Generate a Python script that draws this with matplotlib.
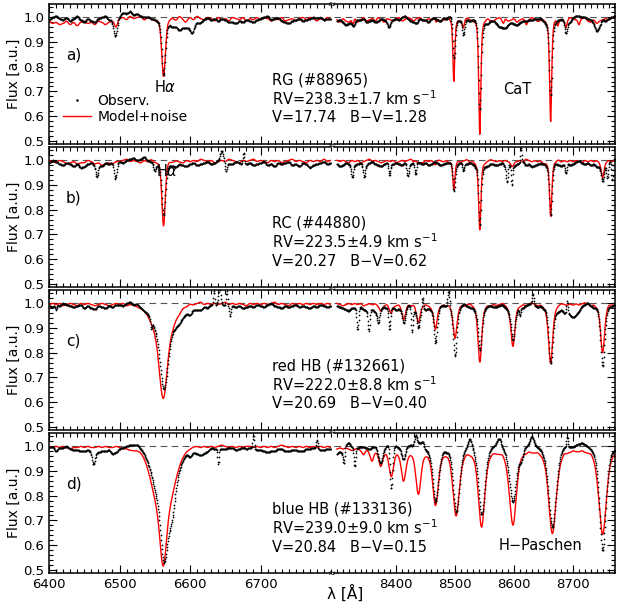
import numpy as np
import matplotlib.pyplot as plt
from matplotlib.ticker import MultipleLocator, FixedLocator, NullFormatter
from matplotlib.lines import Line2D

plt.rcParams['font.family'] = ['DejaVu Sans']

FIG_W, FIG_H = 623, 605

# axis ranges
left_lim = (6400, 6800)
right_lim = (8295, 8771)
flux_lim = (0.487, 1.054)
left_ticks = [6400, 6500, 6600, 6700]
right_ticks = [8400, 8500, 8600, 8700]

# text per star
panel_labels = ['a)', 'b)', 'c)', 'd)']
star_names = ['RG (#88965)', 'RC (#44880)', 'red HB (#132661)', 'blue HB (#133136)']
rv_texts = ['RV=238.3\u00b11.7 km s$^{-1}$', 'RV=223.5\u00b14.9 km s$^{-1}$',
            'RV=222.0\u00b18.8 km s$^{-1}$', 'RV=239.0\u00b19.0 km s$^{-1}$']
phot_texts = ['V=17.74   B\u2212V=1.28', 'V=20.27   B\u2212V=0.62',
              'V=20.69   B\u2212V=0.40', 'V=20.84   B\u2212V=0.15']

# continuum levels per star
cont_model = [0.99, 0.995, 0.995, 0.995]
cont_obs = [0.99, 0.985, 0.985, 0.99]
cont_model_r = [0.99, 0.995, 0.995, 0.99]
cont_obs_r = [0.985, 0.985, 0.99, 1.0]

# absorption features: (centre [A], depth, sigma [A], lorentz fraction)
# negative depth = spike above continuum
rg_model_left = [(6562.5, 0.23, 2.6, 0.3), (6495, 0.015, 2, 0), (6593, 0.01, 2, 0)]
rg_obs_left = [(6562.5, 0.22, 2.6, 0.3), (6494, 0.065, 2.5, 0), (6602, 0.03, 2.5, 0),
               (6592, 0.025, 14, 0)]
rg_model_right = [(8498, 0.25, 1.6, 0.5), (8542, 0.46, 1.8, 0.5), (8662, 0.41, 1.8, 0.5),
                  (8514, 0.03, 1.5, 0), (8688, 0.03, 1.5, 0), (8327, 0.02, 1.5, 0),
                  (8468, 0.015, 1.5, 0), (8582, 0.015, 1.5, 0), (8621, 0.015, 1.5, 0),
                  (8674, 0.02, 1.5, 0), (8710, 0.015, 1.5, 0)]
rg_obs_right = [(8498, 0.16, 2.0, 0.5), (8542, 0.36, 2.3, 0.5), (8662, 0.30, 2.3, 0.5),
                (8514, 0.05, 1.8, 0), (8688, 0.05, 2.0, 0), (8580, 0.015, 10, 0),
                (8740, 0.03, 3, 0), (8388, 0.02, 2, 0), (8327, 0.02, 2, 0)]

rc_model_left = [(6562.5, 0.26, 2.4, 0.3)]
rc_obs_left = [(6562.5, 0.205, 2.6, 0.3), (6468, 0.05, 1.8, 0), (6494, 0.06, 1.8, 0),
               (6550, 0.03, 1.5, 0), (6651, 0.035, 1.2, 0), (6645, -0.045, 2, 0),
               (6676, -0.05, 1.2, 0)]
rc_model_right = [(8498, 0.115, 1.8, 0.5), (8542, 0.275, 2.0, 0.5), (8662, 0.225, 2.0, 0.5),
                  (8750, 0.06, 2.5, 0.3), (8598, 0.02, 2.5, 0), (8467, 0.015, 2.5, 0),
                  (8438, 0.01, 2.5, 0)]
rc_obs_right = [(8498, 0.115, 2.0, 0.5), (8542, 0.255, 2.2, 0.5), (8662, 0.205, 2.2, 0.5),
                (8750, 0.07, 2.5, 0.3), (8326, 0.04, 1.5, 0), (8346, 0.045, 1.5, 0),
                (8389, 0.04, 1.5, 0), (8420, 0.04, 1.5, 0), (8433, 0.05, 1.5, 0),
                (8514, 0.03, 1.5, 0), (8588, 0.07, 1.5, 0), (8596, 0.08, 1.2, 0),
                (8612, -0.06, 1.0, 0), (8688, 0.04, 1.5, 0), (8758, 0.06, 1.5, 0),
                (8766, 0.08, 1.2, 0)]

rhb_model_left = [(6562, 0.22, 5, 0), (6562, 0.16, 14, 0)]
rhb_obs_left = [(6563, 0.20, 5, 0), (6563, 0.13, 14, 0), (6595, 0.02, 15, 0),
                (6634, -0.06, 1.0, 0), (6642, -0.07, 1.5, 0), (6652, -0.06, 1.0, 0),
                (6657, 0.04, 1.0, 0), (6545, 0.03, 1.0, 0), (6410, 0.02, 1.0, 0)]
rhb_model_right = [(8374, 0.02, 3, 0.5), (8392, 0.035, 3, 0.5), (8413, 0.055, 3, 0.5),
                   (8438, 0.075, 3, 0.5), (8467, 0.10, 3, 0.5), (8500, 0.14, 3.2, 0.5),
                   (8542, 0.235, 3.2, 0.5), (8598, 0.17, 3.5, 0.5), (8662, 0.24, 3.5, 0.5),
                   (8750, 0.195, 3.5, 0.5)]
rhb_obs_right = [(8335, 0.09, 1.5, 0), (8354, 0.09, 1.5, 0), (8370, 0.05, 2, 0),
                 (8389, 0.08, 1.5, 0), (8413, 0.06, 2.5, 0.5), (8427, 0.10, 1.5, 0),
                 (8438, 0.08, 2.5, 0.5), (8445, -0.04, 1.2, 0), (8467, 0.15, 2.8, 0.5),
                 (8489, -0.07, 1.5, 0), (8500, 0.21, 3.0, 0.5), (8542, 0.18, 3.2, 0.5),
                 (8598, 0.14, 3.5, 0.5), (8662, 0.23, 3.5, 0.5), (8750, 0.24, 3.5, 0.5),
                 (8632, -0.04, 1.2, 0), (8690, -0.05, 1.2, 0), (8610, 0.04, 1.5, 0),
                 (8700, 0.03, 8, 0)]

bhb_model_left = [(6562, 0.18, 4, 0), (6562, 0.30, 14, 0)]
bhb_obs_left = [(6563, 0.18, 4, 0), (6563, 0.27, 13, 0), (6574, 0.10, 5, 0),
                (6605, 0.02, 18, 0), (6463, 0.05, 2, 0), (6640, 0.06, 1.0, 0),
                (6690, -0.05, 1.0, 0), (6780, -0.03, 1.0, 0)]
bhb_model_right = [(8345, 0.02, 3, 0.5), (8359, 0.04, 3, 0.5), (8374, 0.065, 3.5, 0.5),
                   (8392, 0.105, 4, 0.5), (8413, 0.125, 4, 0.5), (8438, 0.175, 4.5, 0.5),
                   (8467, 0.22, 5, 0.5), (8502, 0.265, 5.5, 0.5), (8545, 0.31, 5.5, 0.5),
                   (8598, 0.305, 6, 0.5), (8665, 0.34, 6.5, 0.5), (8750, 0.345, 6.5, 0.5)]
bhb_obs_right = [(8312, 0.05, 1.5, 0), (8330, 0.07, 1.5, 0), (8374, 0.06, 3.5, 0.5),
                 (8392, 0.17, 2.0, 0), (8413, 0.05, 3, 0.5), (8433, -0.04, 2.5, 0),
                 (8467, 0.22, 5, 0.5), (8502, 0.26, 5.5, 0.5), (8545, 0.27, 5.5, 0.5),
                 (8598, 0.22, 6, 0.5), (8665, 0.33, 6.5, 0.5), (8750, 0.42, 5.5, 0.5),
                 (8525, -0.03, 3, 0), (8575, -0.03, 3, 0), (8630, -0.03, 3, 0),
                 (8690, -0.04, 1.2, 0), (8612, 0.04, 3, 0)]

# continuum noise (per cent), one value every 5 A from 6400 (left) / 8300 (right)
rg_model_left_rip = [
    -0.5, -1.5, -1, -2, -1.5, -0.5, -2, -1, -2.5, -1, -0.5, -1.5, -1, -2, -0.5, -1, -2, -1, -0.5, -1.5,
    0.5, 1, 0, 1.5, 0.5, 1, 1.5, 0, 1, 0.5, 0, 0.5, 0, 0, 0.5, 1, 0, 1.5, 0.5, 0,
    1, 0, 1.5, 0.5, 0, 1, 0.5, -0.5, 1, 0, 0.5, -0.5, 1, 0.5, 0, 1, -0.5, 0.5, 0, 1,
    0, 1, 0.5, -0.5, 0.5, 0, 1, -0.5, 0, 0.5, -0.5, 0.5, 1, 0, 1, 0.5, -0.5, 0.5, 0, 1, 0]
rg_obs_left_rip = [
    0, 1, 1.5, 0.5, 0, 1, -0.5, 0.5, 1.5, 0, -1, 0.5, -0.5, -1, 0.5, 1, 1.5, 0, 0, 0,
    1.5, 3, 2.5, 3.5, 2, 2.5, 1.5, 1, 1.5, 0.5, 0.5, 0, 0, 0, -0.5, -1.5, -1, -2, -0.5, -1,
    0, -1, 0, -0.5, 0.5, 1, 0, 0.5, -0.5, 0.5, 0, -1, -1, -1.5, -0.5, -1, 0, -0.5, -1, 0,
    0.5, 1, 1.5, 0, 0.5, 1, -0.5, -1, -1.5, -0.5, 0, 0.5, -0.5, 0, 0.5, 1, 0.5, 1, 0, 0.5, 0.5]
rg_model_right_rip = [
    0, -1, 0.5, -0.5, -1, 0, 0.5, -1, 0, 1, -0.5, 0, 0.5, -0.5, 1, 0, -1, 0.5, 0, -0.5,
    0.5, 1, -0.5, 0, 1, 0.5, -0.5, 0.5, 1, 0, -0.5, 0.5, 0, 1, 0.5, -0.5, 0, 0.5, 1, 0.5,
    0, 0.5, -0.5, 0, 1, 0.5, 0, 0.5, -0.5, 0, 0.5, 1, 0, -0.5, 0.5, 1, 0, 0.5, -0.5, 0,
    0.5, -1, 0, 0.5, -0.5, 0, 1, 0.5, -0.5, 0, 0.5, 0, -0.5, 0.5, 1, 0, 0.5, -0.5, 0, 1,
    0.5, 0, -0.5, 0.5, 1, -0.5, -1, 0, -1.5, -0.5, 0, 0.5, 0, 1, 0.5]
rg_obs_right_rip = [
    0, 0.5, -0.5, -1.5, -1, 0, -0.5, 0.5, 0.5, 1, -0.5, 0, 0.5, -0.5, 0, 1, 0.5, -0.5, -0.5, 0.5,
    1, 0.5, 1.5, 2, 1, 0, -0.5, -1, 1, 0.5, 0.5, -0.5, 1, 1.5, 0.5, 0, 1.5, 1, 2.5, 3,
    0, 1, 0.5, -0.5, 1, 0.5, 1.5, 2, 0, 0.5, 0.5, -0.5, 0.5, 1, 0, -1, -1, -1.5, -0.5, 0,
    -1, -1.5, -0.5, 0, 0, 0.5, 0.5, 1, 1, 1.5, 0.5, 0, 0, 0, 0.5, 1, 1, 0.5, 0, -0.5,
    1.5, 2, 2, 1.5, 1.5, 1, 0.5, -0.5, -1, -1.5, 0.5, 0, 1, 1.5, 2]

rc_model_left_rip = [
    0.5, 0, -0.5, 0.5, 0, -1, -0.5, 0, -1, -0.5, -0.5, 0.5, 0, -1, -0.5, -1.5, -1, -0.5, -1, 0,
    0, 0.5, 1, 0, 0.5, 0, -0.5, 0.5, 0, 1, 0, 0, 0, 0, 0.5, 0, 0.5, 0, -0.5, 0.5,
    0, 0.5, 0, 1, 0.5, 0, 0.5, -0.5, 0, 0.5, 0, 1, 0.5, 0, -0.5, 0.5, 0, 0.5, 1, 0,
    0.5, 0, -0.5, 0.5, 0, 0.5, -0.5, 0, 0.5, 1, 0, 0.5, 0, -0.5, 0.5, 0, 0.5, 0, 1, 0, 0.5]
rc_obs_left_rip = [
    0.5, 1.5, 1, 0, -0.5, 0.5, 0, -1, 0, -1.5, -1, 0, 0.5, -0.5, 0, -1, 0.5, 0, 0.5, 0,
    1, 0.5, 1.5, 2, 2.5, 1.5, 2, 3, 1.5, 1, 0.5, 0, 0, 0, 0, -0.5, -1, 0, -0.5, -1,
    0, 0.5, -0.5, 0, 0.5, 1, 0, 0.5, 1.5, 1, 0.5, 0, 0, 1, 0.5, -0.5, 0, 0.5, -0.5, 0,
    0.5, 1, -0.5, 0, -1, 0.5, 0, 0.5, 1, -0.5, 0, -1, 0.5, 0, -1.5, -0.5, 0, 0.5, 1, 0, 0.5]
rc_model_right_rip = [
    0.5, 0, 0.5, 0, -0.5, 0.5, 0, 0.5, -0.5, 0, 0.5, 1, 0, 0.5, 0, -0.5, 0, 0.5, 0, 0.5,
    -0.5, 0, 0.5, 0, 0.5, 1, 0, 0.5, 0, -0.5, 0.5, 0, 0.5, 0, 1, 0.5, 0, 0.5, 0, 0.5,
    0, 0.5, 0, 0.5, 1, 0, 0.5, 0, -0.5, 0.5, 0, 0.5, 1, 0.5, 0, 0.5, 0, 0.5, 0, -0.5,
    0.5, 0, 0.5, 0, 1, 0.5, 0, 0.5, 0, 0.5, -0.5, 0, 0.5, 0, 0.5, 1, 0, 0.5, 0, 0.5,
    0, 0.5, 0, -0.5, 0.5, 0, 0.5, 0, 0.5, 0, -0.5, 0, 0.5, 0, 0.5]
rc_obs_right_rip = [
    0, -1, -0.5, 0.5, 0, -1.5, -0.5, 0, 0.5, -1, -0.5, 0.5, 1, 0, -0.5, -1, 0, 0.5, -0.5, 0,
    0.5, 0, -0.5, 0.5, -1, 0, 0.5, 1, 0.5, 0, 0.5, -0.5, 0, 1, 0.5, -0.5, 0, 0.5, 1, 1.5,
    0, 0.5, 1, 0.5, 0, 1, 0.5, 0, 1, 0.5, 0, -0.5, 0.5, 0, -0.5, 0, 0.5, -1, 0, -0.5,
    -1, 0, 0.5, 1, -0.5, 0, -1, -0.5, 0, 0.5, 0.5, 0, -0.5, 0.5, 1, 0, -0.5, 0, 0.5, -0.5,
    0, 1, 1.5, 0.5, 0, 0.5, -0.5, 0, -1, -0.5, 0, 0.5, 1, 1.5, 2]

rhb_model_left_rip = [
    0, 0.5, 0, 0.5, -0.5, 0, 0.5, 0, -0.5, 0.5, 0, 0.5, 0, -0.5, 0, 0.5, 0, -0.5, 0, 0.5,
    0, 0.5, -0.5, 0, 0, -0.5, -0.5, 0, 0, 0, 0, 0, 0, 0, 0, 0, 0.5, 0, 0.5, 0,
    0.5, 0, 0.5, 1, 0, 0.5, 0, 0.5, 0, 0.5, 1, 0, 0.5, 0, 0.5, 0, -0.5, 0.5, 0, 0.5,
    0, 0.5, 0, 0.5, 1, 0, 0.5, 0, -0.5, 0.5, 0, 0.5, 0, 0.5, 0, 0.5, 0, 0.5, 0, 0.5, 0]
rhb_obs_left_rip = [
    0.5, 0, 1, 0.5, 1.5, 1, 0.5, 0, 0.5, 1, -0.5, 0.5, -0.5, -1, 0.5, 0, -0.5, 0.5, 0, 1,
    1, 0.5, 1.5, 2, 1, 1.5, 0.5, 0, 0.5, 0, 0, 0, 0, 0, 0, 0, -1, -1.5, -0.5, 0,
    -1, 0.5, 0, -0.5, 0.5, 0, 1, 0.5, 1.5, 1, 0.5, 0, 0.5, 0, 0.5, -0.5, 0, 0.5, 0, 1,
    0.5, 0, 1, 1.5, 0.5, 0, -0.5, 0.5, 0, 0.5, 1, 0, 0.5, 0, -0.5, 0.5, 0, 1, 0.5, 0, 0.5]
rhb_model_right_rip = [
    0.5, 0, -0.5, 0, 0.5, 0, 0.5, 0, 0.5, -0.5, 0, 0.5, 0, 0.5, 0, -0.5, 0, 0.5, 0, 0.5,
    0, 0.5, 0, -0.5, 0.5, 0, 0.5, 0, 0.5, 0, 0.5, 0, -0.5, 0, 0.5, 0, 0.5, 0, 0.5, 0,
    0.5, 0, 0.5, 0, 0.5, 1, 0.5, 0, 0.5, 0, 0, 0.5, 0, 0.5, 0, 0.5, 1, 0.5, 0, 0.5,
    0, 0.5, 0, 0.5, 0, 0.5, 1, 0.5, 0, 0.5, 0, -0.5, 0, 0.5, 0, 0.5, 1, 0.5, 0, 0.5,
    0, 0.5, 0, 0.5, 1, 0.5, 0, 0.5, 0, 0.5, 0, 0.5, 1, 0.5, 0]
rhb_obs_right_rip = [
    0, -0.5, -1, -1.5, -2, -1, -1, -0.5, -0.5, -1.5, -2, -1, -1.5, -2.5, -2, -1, -0.5, -1, -1.5, -0.5,
    -1.5, -1, -0.5, -1, 0.5, 1, -1.5, -1, -0.5, 0, -1, -0.5, -0.5, 0, 0.5, 1, 1, 0.5, 0, 0.5,
    1, 0.5, 1, 1.5, 0.5, 0, 0, -0.5, 0.5, 0, 0, 0.5, 0.5, 0, 0, 0.5, 1, 0, -0.5, 0,
    0.5, 0, 1, -0.5, 0.5, 1, 1.5, 0.5, 0, 0.5, 0, 0.5, 0, -0.5, -1, -1.5, -1, -2, -1.5, -1,
    -1.5, -1, -0.5, 0.5, 1, 1.5, 0.5, 0, 0.5, 0, -0.5, 0.5, 1, 0.5, 1]

bhb_model_left_rip = [
    0.5, 0, 0.5, 0, 0.5, 0, -0.5, 0, 0, 0.5, 0, 0.5, 0, 0, 0.5, 0, 0.5, 0, 0, 0.5,
    0, -0.5, -0.5, -1, -1, -0.5, 0, 0, 0, 0, 0, 0, 0, 0, 0, 0, 0, 0, 0, 0,
    0, 0.5, 0.5, 0, 0.5, 0, 0.5, 0, 0.5, 1, 0.5, 0, 0.5, 0, 0.5, 0, 0.5, 0.5, 0, 0.5,
    0, 0.5, 0, 0.5, 0, 0.5, 1, 0.5, 0, 0.5, 0, 0.5, 0, 0.5, 0, 0.5, 0, 0.5, 0, 0.5, 0]
bhb_obs_left_rip = [
    0.5, 1, -1, 0.5, 0.5, 1, 0, -0.5, -0.5, -1, -1, -0.5, -1, -1.5, -1.5, -1, -1, -0.5, -2, -1.5,
    0, 0.5, 1, 1.5, 1.5, 2, 1, 0.5, 0, 0, 0, 0, 0, 0, 0, 0, 0, -0.5, 0, 0.5,
    -1, 0.5, 0, -1, -0.5, 0, 1, 0.5, 0, 0, 0, 0.5, 0.5, -0.5, 0, 0.5, 0, 0.5, 0.5, -0.5,
    -0.5, -1, -1.5, -1, -1, 0, 0, -1, -1, -0.5, -0.5, -1, -1, 0, 0, 0.5, 0.5, -0.5, -0.5, 0, 0]
bhb_model_right_rip = [
    0, 0.5, 0, 0.5, 0, -0.5, 0, 0.5, 0, 0, 0.5, 0, -0.5, 0, 0.5, 0, 0, 0.5, 0, 0,
    0.5, 0, 0, 0.5, 0, 0, 0.5, 0, 0, 0.5, 0, 0, 0.5, 0, 0, 0.5, 0, 0, 0.5, 0,
    0, 0.5, 0, 0, 0.5, 0, 0, 0.5, 0, 0, 0.5, 0, 0, 0.5, 0, 0, 0.5, 0, 0, 0.5,
    0, 0, 0.5, 0, 0, 0.5, 0, 0, 0.5, 0, 0, 0.5, 0, 0, 0.5, 0, 0, 0.5, 0, 0,
    0.5, 0, 0, 0.5, 0, 0, 0.5, 0, 0, 0.5, 0, 0, 0.5, 0, 0]
bhb_obs_right_rip = [
    -3, -2, -3, 1, 1.5, 0, -1, -0.5, 0, 0, -0.5, -1, 0, 0.5, -1, -0.5, 0, 1, 0.5, 0,
    0.5, 0, -0.5, 0.5, 1, 1, 0, 1.5, 2, 3, 0, 0, 0.5, 0, 0.5, 0, 1, 0.5, 1.5, 2,
    0, 0, 1, 1.5, 2, 2.5, 2, 1, 0.5, 0, 0, 1, 1.5, 2, 2.5, 2, 1.5, 1, 0, 0,
    0, 0.5, 1, 1, 1.5, 2, 2.5, 2, 1.5, 1, 0.5, 0, 0, 0.5, 1, 1.5, 2, 2, 1.5, 1,
    1, 1.5, 2, 2.5, 2, 1.5, 1, 0.5, 0, 0, 0, 0.5, 0, 0.5, 0.5]

model_left = [rg_model_left, rc_model_left, rhb_model_left, bhb_model_left]
obs_left = [rg_obs_left, rc_obs_left, rhb_obs_left, bhb_obs_left]
model_right = [rg_model_right, rc_model_right, rhb_model_right, bhb_model_right]
obs_right = [rg_obs_right, rc_obs_right, rhb_obs_right, bhb_obs_right]
rip_model_left = [rg_model_left_rip, rc_model_left_rip, rhb_model_left_rip, bhb_model_left_rip]
rip_obs_left = [rg_obs_left_rip, rc_obs_left_rip, rhb_obs_left_rip, bhb_obs_left_rip]
rip_model_right = [rg_model_right_rip, rc_model_right_rip, rhb_model_right_rip, bhb_model_right_rip]
rip_obs_right = [rg_obs_right_rip, rc_obs_right_rip, rhb_obs_right_rip, bhb_obs_right_rip]


def spectrum(wave, cont, lines, ripple, start, step=5.0):
    flux = np.full_like(wave, cont)
    for c, d, s, eta in lines:
        g = np.exp(-0.5 * ((wave - c) / s) ** 2)
        lor = 1.0 / (1.0 + ((wave - c) / (1.1774 * s)) ** 2)
        flux -= d * ((1 - eta) * g + eta * lor)
    knots = start + step * np.arange(len(ripple))
    w = np.exp(-0.5 * ((wave[:, None] - knots[None, :]) / (0.4 * step)) ** 2) + 1e-12
    flux += 0.01 * (w @ np.array(ripple, dtype=float)) / w.sum(axis=1)
    return flux


def fx(px):
    return px / FIG_W


def fy(py):
    return 1 - py / FIG_H


fig = plt.figure(figsize=(FIG_W / 100, FIG_H / 100), dpi=100)

row_tops = [4, 147, 290, 433]
row_h = 140
left_px = (49, 331)
right_px = (334, 615)

wl_mod = np.arange(6400, 6800.1, 0.5)
wl_obs = np.arange(6400, 6800.1, 0.6)
wr_mod = np.arange(8300, 8771, 0.5)
wr_obs = np.arange(8300, 8771, 0.6)

for i in range(4):
    top = row_tops[i]
    axl = fig.add_axes([fx(left_px[0]), fy(top + row_h),
                        (left_px[1] - left_px[0]) / FIG_W, row_h / FIG_H])
    axr = fig.add_axes([fx(right_px[0]), fy(top + row_h),
                        (right_px[1] - right_px[0]) / FIG_W, row_h / FIG_H])

    for ax, wm, wo, mlines, olines, mrip, orip, start, cm, co in [
            (axl, wl_mod, wl_obs, model_left[i], obs_left[i], rip_model_left[i],
             rip_obs_left[i], 6400, cont_model[i], cont_obs[i]),
            (axr, wr_mod, wr_obs, model_right[i], obs_right[i], rip_model_right[i],
             rip_obs_right[i], 8300, cont_model_r[i], cont_obs_r[i])]:
        ax.axhline(1.0, color='#555555', lw=0.8, ls=(0, (6, 4)), zorder=1)
        ax.plot(wm, spectrum(wm, cm, mlines, mrip, start), color='red', lw=1.0, zorder=2)
        ax.plot(wo, spectrum(wo, co, olines, orip, start), ls='none', marker='o',
                ms=1.25, mew=0, color='black', zorder=3)
        ax.set_ylim(*flux_lim)
        ax.yaxis.set_major_locator(MultipleLocator(0.1))
        ax.yaxis.set_minor_locator(MultipleLocator(0.02))
        ax.xaxis.set_minor_locator(MultipleLocator(10))
        ax.tick_params(which='both', direction='in', top=True, right=True,
                       labelsize=9.5, width=0.8)
        ax.tick_params(which='major', length=6)
        ax.tick_params(which='minor', length=3)
        for sp in ax.spines.values():
            sp.set_linewidth(1.1)

    axl.set_xlim(*left_lim)
    axr.set_xlim(*right_lim)
    axl.xaxis.set_major_locator(FixedLocator(left_ticks))
    axr.xaxis.set_major_locator(FixedLocator(right_ticks))
    axl.spines['right'].set_visible(False)
    axr.spines['left'].set_visible(False)
    axl.tick_params(which='both', right=False)
    axr.tick_params(which='both', left=False, labelleft=False)
    axl.yaxis.set_major_formatter(plt.FormatStrFormatter('%.1f'))
    if i < 3:
        axl.xaxis.set_major_formatter(NullFormatter())
        axr.xaxis.set_major_formatter(NullFormatter())

    axl.set_ylabel('Flux [a.u.]', fontsize=10, labelpad=2)

    # annotations
    fig.text(fx(66), fy(top + 51), panel_labels[i], fontsize=11, va='center')
    fig.text(fx(272), fy(top + 76), star_names[i], fontsize=10.5, va='center')
    fig.text(fx(272), fy(top + 95), rv_texts[i], fontsize=10.5, va='center')
    fig.text(fx(272), fy(top + 114), phot_texts[i], fontsize=10.5, va='center')

    if i == 0:
        handles = [Line2D([], [], ls='none', marker='o', ms=1.8, mew=0, color='black'),
                   Line2D([], [], color='red', lw=1.0)]
        axl.legend(handles, ['Observ.', 'Model+noise'], loc='upper left',
                   bbox_to_anchor=(0.03, 0.40), frameon=False, fontsize=10,
                   handlelength=2.0, handletextpad=0.5, labelspacing=0.2,
                   borderaxespad=0)
        fig.text(fx(165), fy(top + 83), 'H$\\alpha$', fontsize=10.5, ha='center',
                 va='center')
        fig.text(fx(517), fy(top + 85), 'CaT', fontsize=10.5, ha='center', va='center')
    if i == 1:
        fig.text(fx(167), fy(top + 24), 'H$\\alpha$', fontsize=10.5, ha='center',
                 va='center')
    if i == 3:
        fig.text(fx(540), fy(top + 112), 'H\u2212Paschen', fontsize=10.5, ha='center',
                 va='center')

# axis-break marks, one per panel boundary
for yb in [4, 145.5, 288.5, 431.5, 573]:
    fig.text(fx(332.5), fy(yb), '\u2248', ha='center', va='center', fontsize=7)

fig.text(fx(345), fy(593), '\u03bb [\u00c5]', fontsize=11, ha='center', va='center')

fig.savefig('out.png', dpi=100)
